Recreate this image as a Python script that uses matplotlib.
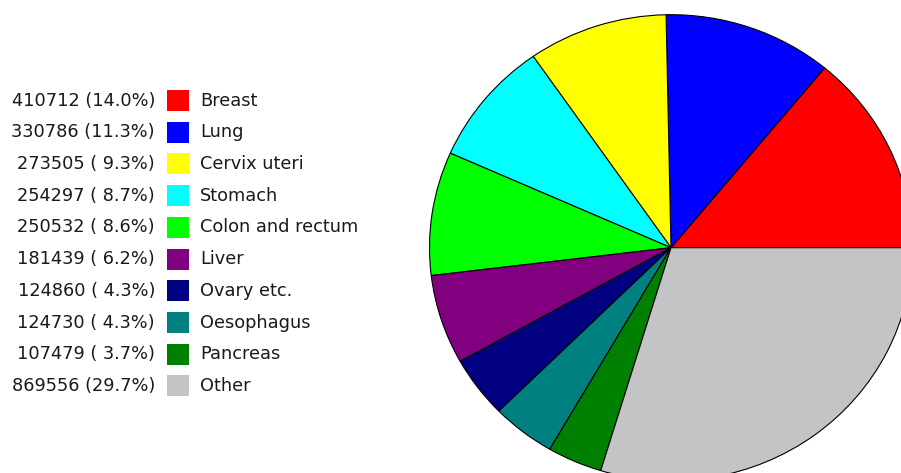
import matplotlib.pyplot as plt
from matplotlib.patches import Rectangle

sites = ['Breast', 'Lung', 'Cervix uteri', 'Stomach', 'Colon and rectum',
         'Liver', 'Ovary etc.', 'Oesophagus', 'Pancreas', 'Other']
cases = [410712, 330786, 273505, 254297, 250532,
         181439, 124860, 124730, 107479, 869556]
colors = ['#ff0000', '#0000ff', '#ffff00', '#00ffff', '#00ff00',
          '#800080', '#000080', '#008080', '#008000', '#c4c3c6']

W, H = 901, 473
fig = plt.figure(figsize=(W / 100, H / 100), dpi=100)

# pie, slightly wider than tall, centre near the right edge
pie_ax = fig.add_axes([0, 0, 1, 1])
pie_ax.pie(cases, colors=colors, startangle=0, counterclock=True,
           wedgeprops=dict(edgecolor='black', linewidth=0.8))
cx, cy, rx, ry = 671, 247.7, 241.5, 233
pie_ax.set_aspect('auto')
pie_ax.set_xlim(-cx / rx, (W - cx) / rx)
pie_ax.set_ylim(-(H - cy) / ry, cy / ry)
pie_ax.axis('off')

# legend with counts and shares
leg = fig.add_axes([0, 0, 1, 1])
leg.set_xlim(0, W)
leg.set_ylim(H, 0)
leg.axis('off')
leg.patch.set_alpha(0)

total = sum(cases)
y0, step = 100.5, 31.72
for i, (name, n, c) in enumerate(zip(sites, cases, colors)):
    y = y0 + i * step
    pct = 100 * n / total
    leg.text(155, y, f'{n} ({pct:4.1f}%)', ha='right', va='center',
             fontsize=12.8, color='#1a1a1a')
    leg.add_patch(Rectangle((167, y - 10.5), 22, 21, facecolor=c, edgecolor='none'))
    leg.text(200, y, name, ha='left', va='center', fontsize=12.8, color='#1a1a1a')

fig.savefig('out.png', dpi=100)
